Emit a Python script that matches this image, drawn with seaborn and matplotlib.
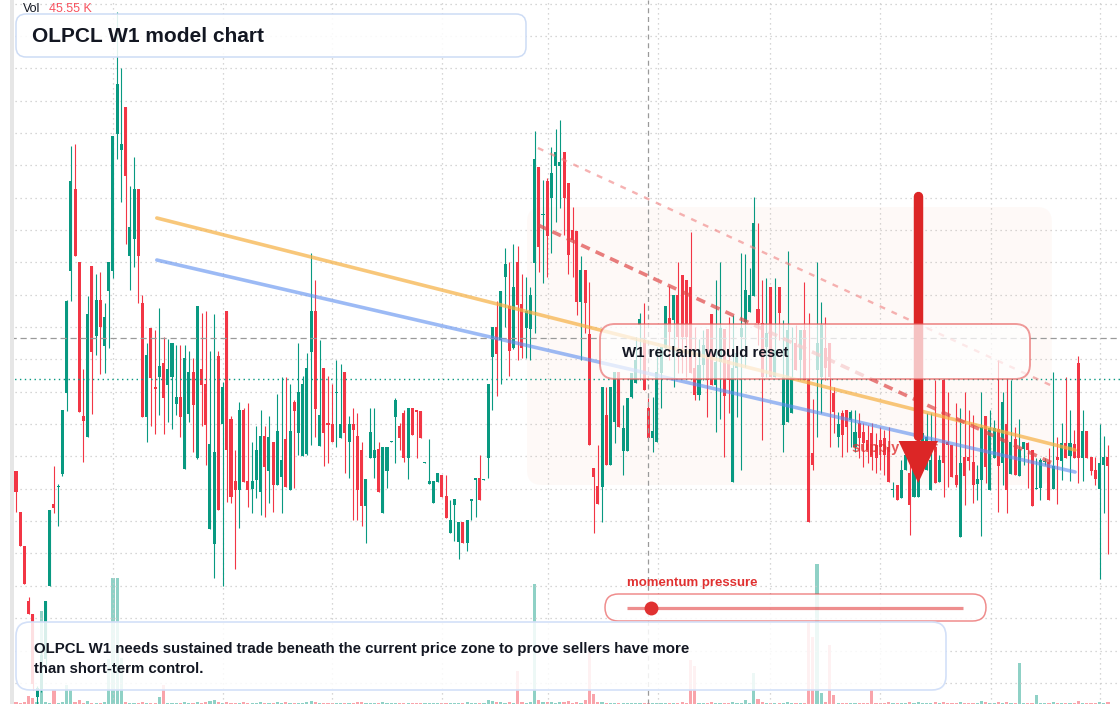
import numpy as np
import pandas as pd
import matplotlib
matplotlib.use("Agg")
import matplotlib.pyplot as plt
from matplotlib.patches import FancyBboxPatch, Polygon, Rectangle
import seaborn as sns

# weekly OLPCL candles, oldest first (price units)
open_ = [233, 192, 158, 103, 90, 7, 14, 45, 118, 200,
         217, 230, 311, 433, 515, 442, 288, 267, 438, 368,
         404, 358, 413, 433, 570, 554, 597, 448, 465, 515,
         401, 287, 376, 317, 327, 341, 319, 327, 300, 307,
         235, 290, 332, 246, 335, 320, 175, 160, 348, 280,
         393, 285, 223, 214, 294, 223, 215, 224, 212, 268,
         233, 262, 219, 227, 265, 214, 302, 271, 248, 250,
         352, 393, 258, 336, 281, 280, 311, 266, 332, 262,
         280, 268, 254, 198, 246, 246, 255, 191, 233, 262,
         287, 278, 291, 246, 296, 294, 293, 241, 220, 201,
         222, 229, 208, 171, 199, 162, 182, 161, 203, 224,
         226, 224, 246, 347, 377, 364, 427, 398, 356, 442,
         400, 376, 375, 441, 537, 489, 523, 506, 538, 538,
         552, 521, 474, 473, 402, 434, 370, 236, 218, 217,
         289, 239, 282, 332, 253, 253, 307, 321, 379, 364,
         296, 266, 262, 331, 356, 386, 384, 409, 429, 424,
         417, 336, 309, 339, 375, 390, 319, 342, 375, 344,
         222, 336, 367, 382, 392, 408, 395, 381, 357, 417,
         327, 417, 279, 282, 291, 361, 344, 374, 324, 251,
         334, 327, 356, 361, 311, 267, 291, 294, 284, 257,
         281, 272, 264, 271, 259, 264, 266, 257, 214, 219,
         206, 234, 231, 207, 207, 251, 234, 214, 257, 222,
         324, 262, 259, 229, 167, 247, 247, 242, 220, 224,
         288, 214, 246, 275, 241, 280, 230, 265, 228, 255,
         261, 254, 215, 216, 242, 242, 215, 247, 243, 261,
         248, 260, 341, 246, 273, 247, 234, 215, 239, 247]

close = [212, 158, 120, 90, 20, 16, 49, 103, 194, 196,
         218, 294, 403, 523, 448, 292, 283, 390, 352, 404,
         377, 387, 442, 568, 620, 560, 528, 477, 515, 448,
         287, 349, 326, 315, 338, 306, 335, 361, 307, 287,
         346, 332, 299, 398, 319, 279, 260, 252, 194, 317,
         254, 207, 214, 294, 222, 214, 223, 254, 268, 237,
         267, 219, 273, 244, 217, 273, 293, 312, 320, 336,
         393, 295, 289, 271, 279, 262, 312, 280, 271, 280,
         274, 214, 198, 225, 272, 254, 212, 257, 257, 263,
         304, 266, 246, 296, 269, 292, 266, 242, 223, 223,
         231, 207, 186, 184, 205, 182, 161, 184, 205, 226,
         204, 225, 320, 377, 350, 413, 440, 353, 417, 399,
         356, 393, 409, 545, 457, 490, 468, 531, 552, 542,
         506, 449, 464, 402, 434, 401, 259, 227, 200, 317,
         239, 317, 332, 277, 276, 306, 331, 344, 385, 314,
         266, 273, 332, 357, 398, 372, 409, 367, 367, 367,
         331, 309, 339, 359, 324, 319, 342, 376, 308, 324,
         336, 351, 376, 414, 409, 481, 381, 327, 371, 327,
         354, 391, 327, 374, 327, 334, 374, 324, 182, 239,
         361, 379, 336, 327, 292, 280, 269, 277, 292, 272,
         266, 261, 254, 247, 246, 257, 249, 222, 215, 204,
         234, 249, 199, 234, 251, 271, 267, 244, 221, 244,
         241, 259, 227, 219, 241, 228, 243, 219, 225, 277,
         237, 276, 276, 238, 302, 214, 262, 229, 255, 262,
         254, 198, 216, 244, 243, 204, 238, 244, 261, 246,
         261, 246, 246, 273, 246, 233, 225, 241, 247, 238]

high = [233, 192, 158, 107, 90, 18, 54, 103, 194, 238,
        220, 294, 404, 558, 560, 442, 335, 408, 438, 430,
        432, 401, 442, 568, 692, 636, 597, 518, 547, 515,
        409, 361, 376, 374, 396, 367, 365, 361, 359, 359,
        359, 353, 346, 398, 391, 393, 353, 390, 353, 322,
        393, 288, 254, 302, 296, 301, 262, 278, 294, 278,
        288, 262, 310, 327, 327, 320, 304, 361, 328, 351,
        451, 424, 364, 336, 328, 320, 344, 340, 332, 288,
        296, 291, 262, 225, 296, 296, 262, 257, 257, 263,
        306, 281, 294, 296, 296, 294, 293, 242, 265, 223,
        231, 229, 229, 204, 205, 182, 182, 184, 205, 226,
        249, 225, 320, 377, 403, 413, 456, 442, 460, 458,
        430, 427, 417, 573, 537, 524, 526, 557, 575, 584,
        552, 521, 497, 473, 448, 434, 422, 236, 259, 317,
        317, 317, 332, 332, 299, 306, 331, 367, 391, 401,
        306, 307, 357, 357, 398, 418, 409, 442, 429, 424,
        472, 377, 365, 374, 375, 390, 424, 442, 375, 387,
        389, 351, 451, 450, 436, 507, 481, 424, 426, 417,
        426, 417, 384, 453, 377, 379, 374, 422, 391, 305,
        442, 402, 387, 361, 317, 292, 294, 294, 294, 294,
        291, 281, 279, 281, 271, 277, 274, 277, 222, 219,
        244, 259, 241, 247, 261, 284, 291, 291, 324, 249,
        324, 312, 259, 301, 296, 312, 294, 289, 239, 312,
        288, 294, 284, 344, 312, 326, 324, 277, 285, 262,
        262, 254, 246, 246, 246, 256, 332, 267, 281, 327,
        294, 274, 348, 294, 273, 247, 247, 280, 268, 259]

low = [192, 158, 120, 90, 14, 0, 12, 39, 118, 191,
       178, 228, 293, 403, 448, 292, 242, 267, 290, 349,
       330, 331, 356, 426, 545, 502, 460, 414, 437, 401,
       287, 262, 278, 270, 289, 270, 282, 275, 289, 267,
       235, 282, 252, 245, 278, 239, 175, 126, 194, 118,
       202, 201, 135, 176, 222, 197, 191, 206, 189, 187,
       201, 192, 219, 191, 217, 214, 216, 249, 248, 249,
       259, 267, 258, 238, 241, 262, 257, 266, 231, 226,
       184, 184, 178, 161, 246, 226, 212, 191, 216, 262,
       241, 254, 242, 225, 269, 246, 266, 241, 220, 201,
       222, 207, 186, 171, 163, 145, 161, 153, 184, 187,
       204, 224, 226, 294, 308, 320, 377, 328, 355, 344,
       346, 346, 344, 371, 432, 421, 427, 451, 482, 496,
       469, 430, 427, 389, 344, 371, 259, 171, 200, 182,
       239, 239, 261, 277, 229, 253, 306, 321, 324, 314,
       266, 252, 262, 296, 356, 344, 317, 331, 331, 327,
       331, 304, 304, 324, 287, 319, 272, 285, 247, 291,
       222, 287, 234, 337, 392, 408, 359, 264, 327, 327,
       327, 364, 252, 282, 291, 334, 324, 324, 182, 234,
       267, 291, 324, 257, 271, 257, 247, 252, 257, 252,
       246, 237, 241, 234, 231, 234, 229, 222, 207, 204,
       206, 234, 169, 207, 207, 244, 234, 214, 221, 222,
       207, 217, 227, 217, 167, 199, 234, 201, 204, 168,
       221, 214, 246, 192, 219, 191, 230, 229, 228, 239,
       216, 198, 215, 204, 239, 204, 215, 200, 224, 246,
       223, 246, 221, 223, 246, 229, 219, 125, 191, 150]

volume_k = [2, 1, 2, 8, 6, 2, 93, 2, 1, 14, 1, 2, 19, 14, 2, 4, 1, 3, 1, 1,
            1, 2, 45, 126, 126, 46, 2, 1, 1, 1, 2, 1, 1, 1, 7, 19, 1, 1, 1, 1,
            2, 1, 1, 2, 1, 2, 3, 4, 2, 1, 2, 1, 1, 1, 2, 1, 1, 1, 2, 1,
            1, 1, 2, 1, 2, 1, 1, 1, 1, 2, 3, 2, 1, 1, 1, 1, 1, 1, 1, 1,
            1, 2, 2, 1, 1, 1, 1, 2, 1, 1, 1, 1, 1, 1, 1, 1, 1, 1, 1, 1,
            1, 1, 1, 1, 1, 1, 1, 2, 1, 1, 1, 1, 4, 3, 2, 2, 1, 2, 1, 33,
            2, 1, 2, 120, 4, 2, 2, 2, 1, 2, 2, 3, 1, 2, 1, 4, 52, 10, 2, 2,
            1, 1, 1, 1, 1, 1, 1, 1, 1, 1, 1, 1, 1, 1, 1, 1, 1, 1, 2, 1,
            44, 38, 1, 1, 1, 2, 1, 1, 1, 1, 2, 1, 1, 4, 1, 31, 5, 2, 1, 1,
            1, 1, 1, 2, 1, 1, 1, 1, 82, 67, 140, 11, 2, 59, 9, 1, 1, 1, 1, 1,
            1, 1, 1, 14, 1, 1, 1, 2, 1, 1, 1, 1, 2, 1, 2, 1, 1, 1, 2, 1,
            2, 1, 1, 1, 2, 1, 1, 1, 1, 3, 2, 1, 1, 2, 1, 2, 1, 1, 41, 1,
            1, 1, 9, 1, 1, 1, 2, 1, 1, 1, 1, 1, 3, 1, 1, 1, 1, 2, 1, 2]

# overlays (bar index / price)
period_starts = [23, 49.1, 75, 101, 126.2, 152.3, 178.8, 204.9, 231.3, 257.1]
trend_idx = [33.4, 251.2]
ma_slow = [486, 254]
ma_fast = [444, 232]
chan_idx = [123.8, 245.8]
chan_upper = [556, 318]
chan_lower = [479, 241]
zone_idx = (121.2, 245.7)
zone_price = (219, 497)
cross_idx, cross_price = 150, 366
last_price = 325
arrow_idx, arrow_top, arrow_tip = 214, 508, 221
momentum = 0.07

UP, DOWN = '#089981', '#f23645'

sns.set_theme(style="white")
plt.rcParams['font.family'] = ['Liberation Sans', 'DejaVu Sans']

df = pd.DataFrame({'open': open_, 'high': high, 'low': low, 'close': close, 'volume': volume_k})
df['idx'] = np.arange(len(df))
df['dir'] = np.where(df['close'] >= df['open'], 'up', 'down')
colors = df['dir'].map({'up': UP, 'down': DOWN}).tolist()

W, H = 1120, 704
bar_px, first_px = 4.216, 16

fig = plt.figure(figsize=(W / 100, H / 100), dpi=100)
ax = fig.add_axes([0, 0, 1, 1])
axv = ax.twinx()
ax.set_zorder(axv.get_zorder() + 1)
ax.patch.set_visible(False)

# volume
sns.barplot(data=df, x='idx', y='volume', hue='dir', palette={'up': UP, 'down': DOWN},
            native_scale=True, dodge=False, width=0.75, alpha=0.45, saturation=1,
            errorbar=None, legend=False, linewidth=0, ax=axv)
axv.set_ylim(0, H)
axv.set_ylabel('')
axv.set_xlabel('')
axv.set_yticks([])

# shaded zone
zone = FancyBboxPatch((zone_idx[0], zone_price[0]), zone_idx[1] - zone_idx[0], zone_price[1] - zone_price[0],
                      boxstyle='round,pad=0,rounding_size=3.5', mutation_aspect=bar_px,
                      facecolor='#f4a582', alpha=0.06, edgecolor='none', zorder=1)
ax.add_patch(zone)

# candles
ax.vlines(df['idx'], df['low'], df['high'], colors=colors, linewidth=0.8, zorder=3)
body_lo = df[['open', 'close']].min(axis=1)
body_h = (df['open'] - df['close']).abs().clip(lower=1.2)
ax.bar(df['idx'], body_h, bottom=body_lo, width=0.72, color=colors, linewidth=0, zorder=4)

# crosshair and last price
ax.axvline(cross_idx, color='#9a9a9a', lw=0.9, ls=(0, (4, 3)), zorder=5)
ax.axhline(cross_price, color='#9a9a9a', lw=0.9, ls=(0, (5, 3)), zorder=5)
ax.axhline(last_price, color=UP, lw=1, ls=(0, (1, 2.5)), zorder=5)

# averages and channel
sns.lineplot(x=trend_idx, y=ma_slow, ax=ax, color='#f6b042', alpha=0.7, linewidth=2.6, zorder=6)
sns.lineplot(x=trend_idx, y=ma_fast, ax=ax, color='#5b8def', alpha=0.6, linewidth=2.6, zorder=6)
ax.plot(chan_idx, chan_upper, color='#f08080', alpha=0.6, lw=1.7, ls=(0, (2.5, 3)), zorder=6)
ax.plot(chan_idx, chan_lower, color='#e04848', alpha=0.7, lw=2.6, ls=(0, (2.6, 1.8)), zorder=6)

# supply label and arrow
ax.text(198.3, 256, 'supply shelf', fontsize=10.5, fontweight='bold', color='#e03131', alpha=0.8,
        va='center', zorder=7)
ax.plot([arrow_idx, arrow_idx], [arrow_top, 268], color='#dc2626', lw=6.8, solid_capstyle='round', zorder=8)
head_w = 4.65
ax.add_patch(Polygon([(arrow_idx - head_w, 263), (arrow_idx + head_w, 263), (arrow_idx, arrow_tip)],
                     closed=True, facecolor='#dc2626', edgecolor='none', zorder=8))

ax.set_xlim((0 - first_px) / bar_px, (W - first_px) / bar_px)
ax.set_ylim(0, H)
ax.set_xticks(period_starts)
ax.set_yticks(np.arange(700.5, 0, -32.35))
ax.grid(True, color='#c9c9c9', linestyle=(0, (1, 3)), linewidth=0.9)
ax.set_axisbelow(True)
ax.tick_params(length=0, labelbottom=False, labelleft=False)
ax.set_xlabel('')
ax.set_ylabel('')
sns.despine(ax=ax, left=True, bottom=True)
sns.despine(ax=axv, left=True, bottom=True, right=True)
axv.tick_params(length=0, labelbottom=False, labelright=False)

# overlay in pixel space for the text boxes
ov = fig.add_axes([0, 0, 1, 1])
ov.set_zorder(ax.get_zorder() + 1)
ov.set_xlim(0, W)
ov.set_ylim(H, 0)
ov.axis('off')
ov.patch.set_visible(False)

ov.add_patch(Rectangle((0, 0), 10, H, facecolor='white', edgecolor='none'))
ov.add_patch(Rectangle((10, 0), 4, H, facecolor='#e6e6e6', edgecolor='none'))

ov.text(23, 9, 'Vol', fontsize=9, color='#131722', va='center')
ov.text(49, 9, '45.55 K', fontsize=9, color='#f7525f', va='center')

ov.add_patch(FancyBboxPatch((16, 14), 510, 43, boxstyle='round,pad=0,rounding_size=10',
                            facecolor=(1, 1, 1, 0.88), edgecolor='#cddcf5', lw=1.1))
ov.text(32, 36, 'OLPCL W1 model chart', fontsize=15, fontweight='bold', color='#131722', va='center')

ov.add_patch(FancyBboxPatch((600, 324), 430, 55, boxstyle='round,pad=0,rounding_size=15',
                            facecolor=(1, 1, 1, 0.72), edgecolor=(0.9, 0.35, 0.35, 0.6), lw=1.4))
ov.text(622, 353, 'W1 reclaim would reset', fontsize=10.8, fontweight='bold', color='#131722', va='center')

ov.text(627, 583, 'momentum pressure', fontsize=9.5, fontweight='bold', color='#e03131', va='center')
ov.add_patch(FancyBboxPatch((605, 594), 381, 27, boxstyle='round,pad=0,rounding_size=13.5',
                            facecolor=(1, 1, 1, 0.85), edgecolor=(0.89, 0.19, 0.19, 0.55), lw=1.1))
track = (627, 963)
ov.plot(track, [608, 608], color='#e03131', alpha=0.55, lw=2.3, solid_capstyle='butt')
ov.plot(track[0] + momentum * (track[1] - track[0]), 608, 'o', ms=10, color='#e03131', mec='none')

ov.add_patch(FancyBboxPatch((16, 622), 930, 68, boxstyle='round,pad=0,rounding_size=14',
                            facecolor=(1, 1, 1, 0.85), edgecolor='#d3e0f8', lw=1.2))
ov.text(34, 659, 'OLPCL W1 needs sustained trade beneath the current price zone to prove sellers have more\n'
        'than short-term control.', fontsize=10.8, fontweight='bold', color='#131722', va='center',
        linespacing=1.5)

fig.savefig('out.png', dpi=100)
